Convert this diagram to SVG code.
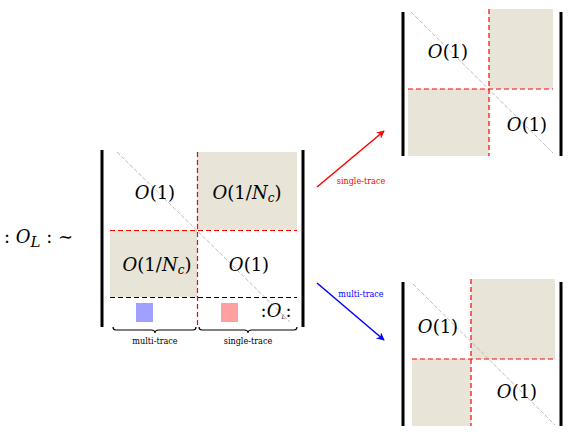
<svg xmlns="http://www.w3.org/2000/svg" width="582" height="436" viewBox="0 0 582 436">
<defs>
<style>
.bar{stroke:#000;stroke-width:3;fill:none}
.shade{fill:#e8e4d8}
.rd{stroke:#ff0000;stroke-width:1.2;stroke-dasharray:5,3;fill:none}
.bd{stroke:#000;stroke-width:1.2;stroke-dasharray:5,3;fill:none}
.diag{stroke:#aaaaaa;stroke-width:0.8;stroke-dasharray:4,2;fill:none}
.m{font-family:'DejaVu Serif','Liberation Serif',serif;font-size:18px;fill:#000}
.i{font-style:italic}
.s{font-family:'DejaVu Serif Condensed','DejaVu Serif',serif;font-size:9px}
.brace{stroke:#000;stroke-width:1.2;fill:none}
</style>
<marker id="ar" viewBox="0 0 10 10" refX="9" refY="5" markerWidth="8" markerHeight="8" orient="auto" markerUnits="userSpaceOnUse"><path d="M0,0 L10,5 L0,10 L3,5 Z" fill="#ff0000"/></marker>
<marker id="ab" viewBox="0 0 10 10" refX="9" refY="5" markerWidth="8" markerHeight="8" orient="auto" markerUnits="userSpaceOnUse"><path d="M0,0 L10,5 L0,10 L3,5 Z" fill="#0000ff"/></marker>
</defs>

<g id="lhs">
<text class="m" x="4" y="243" font-size="23">: <tspan class="i">O</tspan><tspan class="i" font-size="15" dy="4">L</tspan><tspan dy="-4"> : ∼</tspan></text>
</g>

<g id="main-matrix">
<rect class="shade" x="197" y="152" width="100" height="78"/>
<rect class="shade" x="110" y="230" width="87" height="67"/>
<line class="diag" x1="117" y1="152" x2="290" y2="322"/>
<line class="rd" x1="197.5" y1="152" x2="197.5" y2="327"/>
<line class="rd" x1="110" y1="230.5" x2="297" y2="230.5"/>
<line class="bd" x1="110" y1="297.5" x2="297" y2="297.5"/>
<line class="bar" x1="102" y1="150" x2="102" y2="327"/>
<line class="bar" x1="303" y1="150" x2="303" y2="327"/>
<text class="m" x="155" y="199" text-anchor="middle"><tspan class="i">O</tspan>(1)</text>
<text class="m" x="247" y="199" text-anchor="middle"><tspan class="i">O</tspan>(1/<tspan class="i">N</tspan><tspan class="i" font-size="12" dy="3">c</tspan><tspan dy="-3">)</tspan></text>
<text class="m" x="157" y="271" text-anchor="middle"><tspan class="i">O</tspan>(1/<tspan class="i">N</tspan><tspan class="i" font-size="12" dy="3">c</tspan><tspan dy="-3">)</tspan></text>
<text class="m" x="249" y="271" text-anchor="middle"><tspan class="i">O</tspan>(1)</text>
<rect x="136" y="303" width="17" height="19" fill="#a0a0ff"/>
<rect x="221" y="303" width="17" height="19" fill="#ffa0a0"/>
<text class="m" x="276" y="317" text-anchor="middle" font-size="10">:<tspan class="i">O</tspan><tspan class="i" font-size="6" dy="2">L</tspan><tspan dy="-2">:</tspan></text>
<path class="brace" d="M113,327 Q113,330 116,330 L151,330 Q155,330 155,333 Q155,330 159,330 L193,330 Q196,330 196,327"/>
<path class="brace" d="M199,327 Q199,330 202,330 L244,330 Q248,330 248,333 Q248,330 252,330 L294,330 Q297,330 297,327"/>
<text class="s" x="155" y="344" text-anchor="middle">multi-trace</text>
<text class="s" x="248" y="344" text-anchor="middle">single-trace</text>
</g>

<g id="single-trace-matrix">
<rect class="shade" x="489" y="9" width="64" height="80"/>
<rect class="shade" x="408" y="89" width="81" height="67"/>
<line class="diag" x1="411" y1="12" x2="553" y2="153"/>
<line class="rd" x1="489" y1="9" x2="489" y2="156"/>
<line class="rd" x1="408" y1="89" x2="553" y2="89"/>
<line class="bar" x1="403" y1="12" x2="403" y2="156"/>
<line class="bar" x1="561" y1="12" x2="561" y2="156"/>
<text class="m" x="448" y="58" text-anchor="middle"><tspan class="i">O</tspan>(1)</text>
<text class="m" x="527" y="131" text-anchor="middle"><tspan class="i">O</tspan>(1)</text>
</g>

<g id="multi-trace-matrix">
<rect class="shade" x="471" y="279" width="84" height="80"/>
<rect class="shade" x="412" y="359" width="59" height="67"/>
<line class="diag" x1="413" y1="284" x2="555" y2="425"/>
<line class="rd" x1="471" y1="279" x2="471" y2="426"/>
<line class="rd" x1="412" y1="359" x2="555" y2="359"/>
<line class="bar" x1="403" y1="282" x2="403" y2="426"/>
<line class="bar" x1="561" y1="282" x2="561" y2="426"/>
<text class="m" x="438" y="333" text-anchor="middle"><tspan class="i">O</tspan>(1)</text>
<text class="m" x="517" y="398" text-anchor="middle"><tspan class="i">O</tspan>(1)</text>
</g>

<g id="connectors">
<line x1="317" y1="187" x2="384" y2="131" stroke="#ff0000" stroke-width="1.5" marker-end="url(#ar)"/>
<text class="s" x="361" y="184" text-anchor="middle" fill="#ff0000" font-size="8">single-trace</text>
<line x1="317" y1="283" x2="384" y2="340" stroke="#0000ff" stroke-width="1.5" marker-end="url(#ab)"/>
<text class="s" x="361" y="297" text-anchor="middle" fill="#0000ff" font-size="8">multi-trace</text>
</g>
</svg>
